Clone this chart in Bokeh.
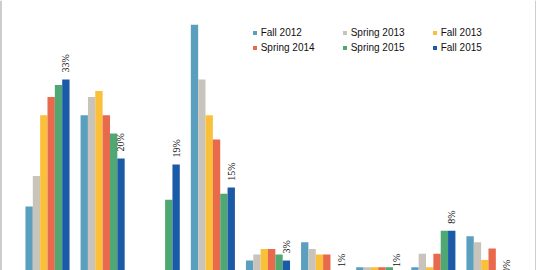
import math
from bokeh.plotting import figure
from bokeh.models import ColumnDataSource, Range1d, Legend, LegendItem, LabelSet
from bokeh.embed import file_html
from bokeh.resources import INLINE

# ---- data (percent) ----
categories = ["G1", "G2", "G3", "G4", "G5", "G6", "G7", "G8", "G9"]
series_names = ["Fall 2012", "Spring 2013", "Fall 2013", "Spring 2014", "Spring 2015", "Fall 2015"]
fall_2012 = [12.1, 27.1, 0.0, 42.0, 3.2, 6.2, 2.1, 2.1, 7.2]
spring_2013 = [17.1, 30.1, 0.0, 33.0, 4.2, 5.1, 2.1, 4.3, 6.2]
fall_2013 = [27.1, 31.1, 0.0, 27.1, 5.1, 4.2, 2.1, 2.1, 3.3]
spring_2014 = [30.1, 27.1, 0.0, 23.1, 5.1, 4.2, 2.1, 4.3, 5.2]
spring_2015 = [32.1, 24.1, 13.2, 14.2, 4.2, 1.0, 2.1, 8.1, 0.4]
fall_2015 = [33.0, 20.0, 19.0, 15.2, 3.2, 1.0, 1.0, 8.1, 0.0]
colors = ["#5B9FBF", "#C8C4BC", "#FAC03A", "#E8694B", "#4FA874", "#1A5AA6"]

all_series = [fall_2012, spring_2013, fall_2013, spring_2014, spring_2015, fall_2015]

p = figure(width=536, height=270, output_backend="svg", toolbar_location=None,
           x_range=Range1d(-0.8345, 8.853), y_range=Range1d(1.563, 45.99),
           min_border_left=1, min_border_right=1, min_border_top=0, min_border_bottom=0)
p.xaxis.visible = False
p.yaxis.visible = False
p.xgrid.visible = False
p.ygrid.visible = False
p.outline_line_color = None
p.background_fill_color = "white"
p.border_fill_color = "#3a3a3a"

n = len(all_series)
bw = 0.8 / n
xs = list(range(len(categories)))
items = []
for k, (name, vals, col) in enumerate(zip(series_names, all_series, colors)):
    off = (k - (n - 1) / 2) * bw
    src = ColumnDataSource(dict(x=[x + off for x in xs], top=vals))
    r = p.vbar(x="x", top="top", width=bw, bottom=0, source=src,
               fill_color=col, line_color=None)
    items.append(LegendItem(label=name, renderers=[r]))
    if k == n - 1:
        src.data["label"] = ["%d%%" % round(v) for v in vals]
        labels = LabelSet(x="x", y="top", text="label", source=src, angle=math.pi / 2,
                          text_align="left", text_baseline="middle", y_offset=7,
                          text_font="Liberation Sans", text_font_size="10px",
                          text_color="#111111")
        p.add_layout(labels)

legend = Legend(items=items, orientation="horizontal", ncols=3,
                location=(250.7, 214.8), padding=0, margin=0, spacing=0,
                glyph_width=5, glyph_height=5, label_standoff=4,
                label_width=81, label_height=15,
                label_text_font="Liberation Sans", label_text_font_size="10px",
                label_text_color="#111111",
                border_line_color=None, background_fill_alpha=0)
p.add_layout(legend)

open("out.html", "w").write(file_html(p, INLINE))
